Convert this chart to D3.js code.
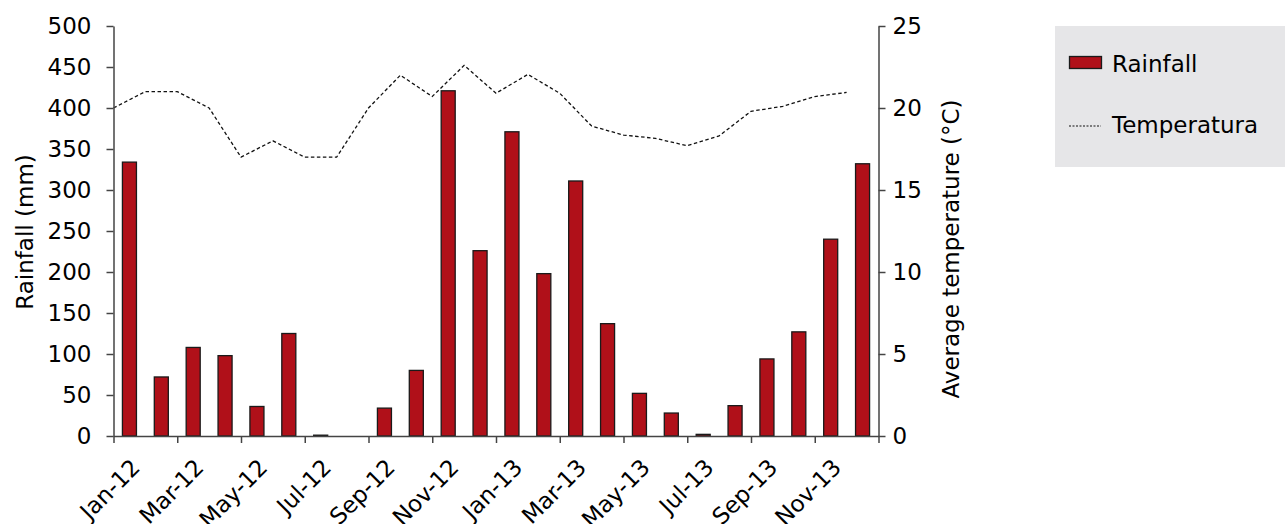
<!DOCTYPE html>
<html>
<head>
<meta charset="utf-8">
<script src="https://cdn.jsdelivr.net/npm/d3@7/dist/d3.min.js"></script>
<style>
  html, body { margin: 0; padding: 0; background: #ffffff; }
  svg { display: block; }
  text { font-family: "DejaVu Sans", sans-serif; fill: #000; }
</style>
</head>
<body>
<svg id="chart" width="1285" height="524"></svg>
<script>
const months = ["Jan-12","Feb-12","Mar-12","Apr-12","May-12","Jun-12","Jul-12","Aug-12","Sep-12","Oct-12","Nov-12","Dec-12",
                "Jan-13","Feb-13","Mar-13","Apr-13","May-13","Jun-13","Jul-13","Aug-13","Sep-13","Oct-13","Nov-13","Dec-13"];
const rainfall = [334, 72, 108, 98, 36, 125, 1, 0, 34, 80, 421, 226,
                  371, 198, 311, 137, 52, 28, 2, 37, 94, 127, 240, 332];
const temperature = [20.0, 21.0, 21.0, 20.0, 17.0, 18.0, 17.0, 17.0, 20.0, 22.0, 20.7, 22.6,
                     20.9, 22.05, 20.9, 18.9, 18.35, 18.15, 17.7, 18.3, 19.8, 20.1, 20.7, 20.95];
const rainTicks = [0, 50, 100, 150, 200, 250, 300, 350, 400, 450, 500];
const tempTicks = [0, 5, 10, 15, 20, 25];
const labelMonths = months.filter((m, i) => i % 2 === 0);

const svg = d3.select("#chart");
const mLeft = 113.5, mRight = 878.5, mTop = 26, mBottom = 436;
const fontSize = 23;

const x = d3.scaleBand().domain(months).range([mLeft, mRight]).paddingInner(0).paddingOuter(0);
const xEdge = d3.scaleLinear().domain([0, months.length]).range([mLeft, mRight]);
const yRain = d3.scaleLinear().domain([0, 500]).range([mBottom, mTop]);
const yTemp = d3.scaleLinear().domain([0, 25]).range([mBottom, mTop]);

const bw = x.bandwidth();
const barW = bw * 0.44;

// bars
svg.append("g").selectAll("rect").data(months).join("rect")
  .attr("x", (d) => x(d) + (bw - barW) / 2)
  .attr("y", (d, i) => yRain(rainfall[i]))
  .attr("width", barW)
  .attr("height", (d, i) => mBottom - yRain(rainfall[i]))
  .attr("fill", "#b01019")
  .attr("stroke", "#1a1a1a")
  .attr("stroke-width", 1.3);

// temperature line
const line = d3.line()
  .x((d, i) => x(months[i]))
  .y((d) => yTemp(d));
svg.append("path")
  .datum(temperature)
  .attr("d", line)
  .attr("fill", "none")
  .attr("stroke", "#111")
  .attr("stroke-width", 1.3)
  .attr("stroke-dasharray", "3.5,2.5");

function styleAxis(g) {
  g.select(".domain").attr("stroke", "#444").attr("stroke-width", 1.5);
  g.selectAll(".tick line").attr("stroke", "#444").attr("stroke-width", 1.5);
  g.selectAll(".tick text").style("font-family", "DejaVu Sans, sans-serif").style("font-size", fontSize + "px").attr("fill", "#000");
}

// left axis
const gL = svg.append("g").attr("transform", `translate(${mLeft},0)`)
  .call(d3.axisLeft(yRain).tickValues(rainTicks).tickSize(7).tickSizeOuter(0).tickPadding(15));
styleAxis(gL);

// right axis
const gR = svg.append("g").attr("transform", `translate(${mRight},0)`)
  .call(d3.axisRight(yTemp).tickValues(tempTicks).tickSize(7).tickSizeOuter(0).tickPadding(7));
styleAxis(gR);

// bottom axis
const gB = svg.append("g").attr("transform", `translate(0,${mBottom})`)
  .call(d3.axisBottom(xEdge).tickValues(d3.range(0, months.length + 1, 2)).tickFormat("").tickSize(7).tickSizeOuter(0));
styleAxis(gB);

// bottom labels
svg.append("g").selectAll("text").data(labelMonths).join("text")
  .attr("transform", (d) => `translate(${x(d) + bw / 2 + 12},${mBottom + 33}) rotate(-45)`)
  .attr("text-anchor", "end")
  .style("font-size", fontSize + "px")
  .text((d) => d);

// axis titles
svg.append("text")
  .attr("transform", `translate(32.5,232) rotate(-90)`)
  .attr("text-anchor", "middle")
  .style("font-size", fontSize + "px")
  .text("Rainfall (mm)");
svg.append("text")
  .attr("transform", `translate(959,249) rotate(-90)`)
  .attr("text-anchor", "middle")
  .style("font-size", fontSize + "px")
  .text("Average temperature (°C)");

// legend
const lg = svg.append("g");
lg.append("rect").attr("x", 1055).attr("y", 26).attr("width", 240).attr("height", 141).attr("fill", "#e6e6e8");
lg.append("rect").attr("x", 1069.5).attr("y", 56.5).attr("width", 32).attr("height", 12)
  .attr("fill", "#b01019").attr("stroke", "#1a1a1a").attr("stroke-width", 1.3);
lg.append("text").attr("x", 1112).attr("y", 72).style("font-size", fontSize + "px").text("Rainfall");
lg.append("line").attr("x1", 1069).attr("x2", 1101).attr("y1", 126).attr("y2", 126)
  .attr("stroke", "#111").attr("stroke-width", 1.2).attr("stroke-dasharray", "2,1.5");
lg.append("text").attr("x", 1112).attr("y", 133).style("font-size", fontSize + "px").text("Temperatura");
</script>
</body>
</html>
